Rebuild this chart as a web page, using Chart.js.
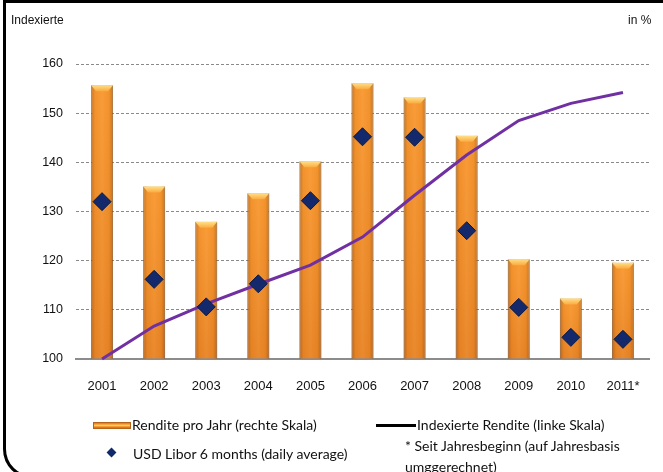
<!DOCTYPE html>
<html>
<head>
<meta charset="utf-8">
<script src="https://cdn.jsdelivr.net/npm/chart.js@4.4.0/dist/chart.umd.min.js"></script>
<style>
  body { margin: 0; background: #fff; }
  #wrap { position: relative; width: 663px; height: 472px; overflow: hidden; }
  #graph { position: absolute; left: 0; top: 0; }
  .frame { position: absolute; left: 3px; top: 0; width: 720px; height: 479px; border: 3px solid #000; border-radius: 0 0 0 30px; box-sizing: border-box; }
  .txt { position: absolute; font-family: "Liberation Sans", Arial, sans-serif; font-size: 12px; color: #111; white-space: nowrap; }
  .leg { position: absolute; font-family: Lato, "Open Sans", sans-serif; font-size: 14px; color: #111; white-space: nowrap; line-height: 21px; }
  .icoBar { position: absolute; left: 93px; top: 422px; width: 38px; height: 7px; box-sizing: border-box; border: 1px solid #b5621b;
    background: linear-gradient(to bottom, #dc761f 0%, #f8a640 30%, #ffd066 50%, #f39a35 70%, #c9681c 100%); }
  .icoLine { position: absolute; left: 376px; top: 424px; width: 40px; height: 3px; background: #000; }
  .icoDia { position: absolute; left: 108px; top: 449px; width: 7px; height: 7px; background: #10296a; transform: rotate(45deg); }
</style>
</head>
<body>
<div id="wrap">
  <canvas id="graph" width="663" height="472"></canvas>
  <div class="frame"></div>
  <div class="txt" style="left:11px; top:13px;">Indexierte</div>
  <div class="txt" style="left:628px; top:13px;">in %</div>
  <div class="icoBar"></div>
  <div class="leg" style="left:132px; top:414px;">Rendite pro Jahr (rechte Skala)</div>
  <div class="icoLine"></div>
  <div class="leg" style="left:417px; top:414px;">Indexierte Rendite (linke Skala)</div>
  <div class="icoDia"></div>
  <div class="leg" style="left:133px; top:443px;">USD Libor 6 months (daily average)</div>
  <div class="leg" style="left:405px; top:435px;">* Seit Jahresbeginn (auf Jahresbasis<br>umggerechnet)</div>
</div>
<script>
// Jahre
var jahre = ['2001', '2002', '2003', '2004', '2005', '2006', '2007', '2008', '2009', '2010', '2011*']
var rendite = [155.7, 135.1, 127.9, 133.7, 140.2, 156.1, 153.2, 145.4, 120.3, 112.3, 119.6]
// USD Libor 6 months (Rauten)
var libor = [132.0, 116.2, 110.6, 115.3, 132.2, 145.2, 145.1, 126.1, 110.5, 104.4, 104.0]
// Indexierte Rendite (Linie)
var indexiert = [100, 106.7, 111.2, 115.2, 119.1, 124.8, 133.3, 141.5, 148.5, 152.0, 154.2]
// Achse links
var yMin = 100
var yMax = 160
var yStep = 10

// Schattierung und Kante oben für die Balken
var barShade = {
  id: 'barShade',
  afterDatasetDraw: function(chart, args) {
    if (args.index !== 0) return
    var ctx = chart.ctx
    var area = chart.chartArea
    args.meta.data.forEach(function(bar) {
      var w = bar.width
      var l = bar.x - w / 2
      var r = bar.x + w / 2
      var top = bar.y
      var bot = Math.min(bar.base, area.bottom)
      ctx.save()
      // Seiten dunkler
      var g = ctx.createLinearGradient(l, 0, r, 0)
      g.addColorStop(0, 'rgba(120,60,10,0.45)')
      g.addColorStop(0.18, 'rgba(120,60,10,0.05)')
      g.addColorStop(0.5, 'rgba(255,255,255,0.06)')
      g.addColorStop(0.82, 'rgba(120,60,10,0.05)')
      g.addColorStop(1, 'rgba(120,60,10,0.45)')
      ctx.fillStyle = g
      ctx.fillRect(l, top, w, bot - top)
      // unten dunkler
      var v = ctx.createLinearGradient(0, top, 0, bot)
      v.addColorStop(0, 'rgba(255,180,60,0.15)')
      v.addColorStop(1, 'rgba(170,70,0,0.18)')
      ctx.fillStyle = v
      ctx.fillRect(l, top, w, bot - top)
      // Kante oben
      var t = ctx.createLinearGradient(0, top, 0, top + 6)
      t.addColorStop(0, '#ffe08a')
      t.addColorStop(1, '#fbab3e')
      ctx.fillStyle = t
      ctx.beginPath()
      ctx.moveTo(l, top)
      ctx.lineTo(r, top)
      ctx.lineTo(r - 5, top + 6)
      ctx.lineTo(l + 5, top + 6)
      ctx.closePath()
      ctx.fill()
      ctx.restore()
    })
  }
}

function createChart() {
  var ctx = document.getElementById('graph').getContext('2d')
  var chart = new Chart(ctx, {
    data: {
      labels: jahre,
      datasets: [{
        type: 'bar',
        label: 'Rendite pro Jahr (rechte Skala)',
        data: rendite,
        base: yMin,
        backgroundColor: '#f7922c',
        borderColor: 'rgba(150,80,20,0.6)',
        borderWidth: 1,
        barPercentage: 0.42,
        categoryPercentage: 1,
        order: 3
      }, {
        type: 'line',
        label: 'Indexierte Rendite (linke Skala)',
        data: indexiert,
        borderColor: '#7130a2',
        borderWidth: 3,
        pointRadius: 0,
        tension: 0,
        clip: false,
        order: 2
      }, {
        type: 'line',
        label: 'USD Libor 6 months (daily average)',
        data: libor,
        showLine: false,
        pointStyle: 'rectRot',
        pointRadius: 9,
        pointBackgroundColor: '#13296b',
        pointBorderColor: '#0a1a47',
        pointBorderWidth: 1,
        order: 1
      }]
    },
    options: {
      responsive: false,
      animation: false,
      layout: { padding: { top: 64, right: 14, left: 0, bottom: 0 } },
      plugins: { legend: { display: false }, tooltip: { enabled: false } },
      scales: {
        x: {
          grid: { display: false },
          border: { display: true, color: '#8c8c8c', width: 2 },
          ticks: { color: '#111', padding: 12, font: { family: 'Liberation Sans', size: 13 } },
          afterFit: function(s) { s.height = 113 }
        },
        y: {
          min: yMin,
          max: yMax,
          ticks: { stepSize: yStep, color: '#111', padding: 13, font: { family: 'Liberation Sans', size: 12.5 } },
          grid: {
            drawTicks: false,
            color: function(c) { return c.tick && c.tick.value === yMin ? 'rgba(0,0,0,0)' : '#8a8a8a' },
            lineWidth: 1
          },
          border: { display: false, dash: [3, 2] },
          afterFit: function(s) { s.width = 76 }
        }
      }
    },
    plugins: [barShade]
  })
  return chart
}

createChart()
</script>
</body>
</html>
